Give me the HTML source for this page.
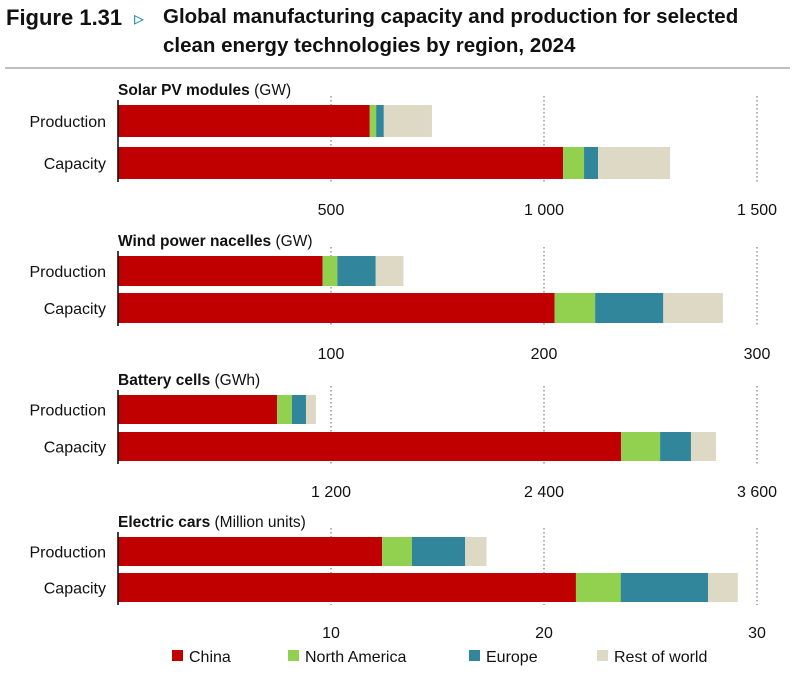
<!DOCTYPE html>
<html><head><meta charset="utf-8"><style>
body{margin:0;background:#fff;width:794px;height:675px;overflow:hidden;font-family:"Liberation Sans",sans-serif}
</style></head><body>
<svg id="chart" width="794" height="675" xmlns="http://www.w3.org/2000/svg">
<text x="6" y="25" font-size="22" font-weight="bold" fill="#111">Figure 1.31</text>
<text x="134" y="25" font-size="20" fill="#2e8ba5">▹</text>
<text x="163" y="23" font-size="20.5" font-weight="bold" fill="#111">Global manufacturing capacity and production for selected</text>
<text x="163" y="52" font-size="20.5" font-weight="bold" fill="#111">clean energy technologies by region, 2024</text>
<line x1="5" y1="68" x2="790" y2="68" stroke="#aaa" stroke-width="1.5"/>
<g id="panels"></g>
<g id="legend"></g>
</svg>
<script>
const regions = ["China","North America","Europe","Rest of world"];
const colors = ["#c00000","#92d050","#31869b","#ddd9c4"];
const panelTitles = ["Solar PV modules","Wind power nacelles","Battery cells","Electric cars"];
const panelUnits = ["(GW)","(GW)","(GWh)","(Million units)"];
const panelMax = [1500,300,3600,30];
const tickValues = [[500,1000,1500],[100,200,300],[1200,2400,3600],[10,20,30]];
const tickLabels = [["500","1 000","1 500"],["100","200","300"],["1 200","2 400","3 600"],["10","20","30"]];
const solarProduction = [591,15,18,113];
const solarCapacity = [1045,49,33,169];
const windProduction = [96,7,18,13];
const windCapacity = [205,19,32,28];
const batteryProduction = [896,84,79,56];
const batteryCapacity = [2834,220,174,141];
const evProduction = [12.4,1.4,2.5,1.0];
const evCapacity = [21.5,2.1,4.1,1.4];
const productionSeries = [solarProduction,windProduction,batteryProduction,evProduction];
const capacitySeries = [solarCapacity,windCapacity,batteryCapacity,evCapacity];

const NS="http://www.w3.org/2000/svg";
const X0=118, X1=757;
const panelTop=[100,251,390,532];
const barH=[32,30,29,29];
const gap=[10,7,8,7];
function mk(tag,attrs,parent){const e=document.createElementNS(NS,tag);for(const k in attrs)e.setAttribute(k,attrs[k]);parent.appendChild(e);return e;}
const panels=document.getElementById('panels');
panelTitles.forEach((t,i)=>{
  const g=mk('g',{},panels);
  
  
  const sx=v=>X0+v/panelMax[i]*(X1-X0);
  const top=panelTop[i], h=barH[i];
  const bottom=top+5+h+gap[i]+h+3;
  tickValues[i].forEach((v,j)=>{
    const gl=mk('line',{x1:sx(v),x2:sx(v),y1:top-4,y2:bottom,stroke:'#888','stroke-width':1.3,'stroke-dasharray':'1.5,2.5'},g);
    
    
    const tl=mk('text',{x:sx(v),y:bottom+33,'font-size':16,'text-anchor':'middle',fill:'#111'},g);
    tl.textContent=tickLabels[i][j];
    
    
  });
  const ti=mk('text',{x:X0,y:top-5,'font-size':15.5,fill:'#111'},g);
  ti.innerHTML='<tspan font-weight="bold">'+t+'</tspan> '+panelUnits[i];
  
  
  const rows=[["Production",productionSeries[i],top+5],["Capacity",capacitySeries[i],top+5+h+gap[i]]];
  rows.forEach(([lab,vals,y])=>{
    const tx=mk('text',{x:106,y:y+h/2+6,'font-size':16,'text-anchor':'end',fill:'#111'},g);
    tx.textContent=lab;
    
    
    let acc=0;
    vals.forEach((v,k)=>{
      const r=mk('rect',{x:sx(acc),y:y,width:sx(acc+v)-sx(acc),height:h,fill:colors[k]},g);
      
      
      acc+=v;
    });
  });
  const ax=mk('line',{x1:X0,x2:X0,y1:top,y2:bottom,stroke:'#000','stroke-width':1.5},g);
  
  
});
const legend=document.getElementById('legend');
const lx=[172,288,469,597];
regions.forEach((r,k)=>{
  const g=mk('g',{},legend);
  
  
  mk('rect',{x:lx[k],y:650,width:11,height:11,fill:colors[k]},g);
  const t=mk('text',{x:lx[k]+17,y:662,'font-size':16,fill:'#111'},g);
  t.textContent=r;
});
</script>
</body></html>
